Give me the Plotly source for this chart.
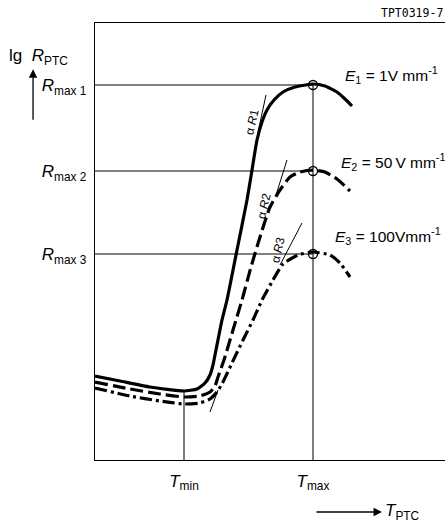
import plotly.graph_objects as go

# ---- data (arbitrary units: T on x, lg R on y) ----
T_MIN = 17.8
T_MAX = 43.6
R_MAX = [75.0, 57.8, 41.2]          # Rmax1, Rmax2, Rmax3

curve1_T = [0, 5, 11, 17.8, 20.4, 22, 23, 23.6, 24.2, 25.4, 26.4, 28.4, 30.4, 31.4, 32.4, 33.4, 34.4, 35.8, 37.6, 40, 43.6, 46, 48.4, 50, 51.4]
curve1_R = [16.8, 15.8, 14.6, 13.8, 14.2, 15.4, 17, 19, 22, 28, 32, 42, 52, 58, 64, 67.6, 70, 72, 73.6, 74.6, 75.2, 74.8, 73.6, 72.2, 70.8]

curve2_T = [0, 7, 13, 17.8, 21, 23, 24, 24.6, 25.8, 27, 28.2, 29.4, 31.2, 33, 35, 37, 39, 41, 43.6, 46, 48.4, 51]
curve2_R = [15.6, 14.2, 13.2, 12.6, 12.8, 13.6, 14.8, 16.6, 20, 24, 28, 32, 38.6, 44.6, 50.6, 54, 56.6, 57.6, 58, 57.6, 56.2, 53.8]

curve3_T = [0, 7, 13, 17.8, 21, 23, 24.4, 25.4, 27.4, 29.6, 31.6, 33.4, 35.6, 37.6, 40.6, 43.6, 47, 49, 51]
curve3_R = [14.4, 12.8, 11.8, 11.2, 11.4, 12.2, 13.6, 15.2, 19.4, 24, 28, 32, 36, 39.2, 41, 41.6, 41, 39.4, 36.6]

# tangent lines (start/end)
tan1_T, tan1_R = [34.2, 32.6], [73, 65.6]
tan2_T, tan2_R = [38.4, 36.2], [60, 53]
tan3_T, tan3_R = [41.4, 37.0], [47.4, 39.0]
tan0_T, tan0_R = [23.0, 24.6], [9.6, 14.0]

alpha_labels = ["α <i>R</i>1", "α <i>R</i>2", "α <i>R</i>3"]
alpha_T = [31.4, 33.8, 36.6]
alpha_R = [67.6, 50.8, 42.0]

E_labels = ["<i>E</i><sub>1</sub> = 1V mm<sup>-1</sup>",
            "<i>E</i><sub>2</sub> = 50\u2009V mm<sup>-1</sup>",
            "<i>E</i><sub>3</sub> = 100Vmm<sup>-1</sup>"]
E_T = [49.6, 48.8, 47.6]
E_R = [77.0, 59.6, 44.8]

y_ticktext = ["<i>R</i><sub>max 3</sub>", "<i>R</i><sub>max 2</sub>", "<i>R</i><sub>max 1</sub>"]
x_ticktext = ["<i>T</i><sub>min</sub>", "<i>T</i><sub>max</sub>"]

FONT = "Liberation Sans, Arial, sans-serif"
BLK = "black"

fig = go.Figure()

# reference lines
for r in R_MAX:
    fig.add_trace(go.Scatter(x=[0, T_MAX], y=[r, r], mode="lines",
                             line=dict(color=BLK, width=1), hoverinfo="skip"))
fig.add_trace(go.Scatter(x=[T_MAX, T_MAX], y=[0, R_MAX[0]], mode="lines",
                         line=dict(color=BLK, width=1), hoverinfo="skip"))
fig.add_trace(go.Scatter(x=[T_MIN, T_MIN], y=[0, min(curve1_R)], mode="lines",
                         line=dict(color=BLK, width=1), hoverinfo="skip"))

# tangents
for tx, ty in [(tan1_T, tan1_R), (tan2_T, tan2_R), (tan3_T, tan3_R), (tan0_T, tan0_R)]:
    fig.add_trace(go.Scatter(x=tx, y=ty, mode="lines",
                             line=dict(color=BLK, width=1), hoverinfo="skip"))

# curves
fig.add_trace(go.Scatter(x=curve1_T, y=curve1_R, mode="lines",
                         line=dict(color=BLK, width=3.2, shape="spline", smoothing=0.5)))
fig.add_trace(go.Scatter(x=curve2_T, y=curve2_R, mode="lines",
                         line=dict(color=BLK, width=3.2, dash="13px,5px", shape="spline", smoothing=0.5)))
fig.add_trace(go.Scatter(x=curve3_T, y=curve3_R, mode="lines",
                         line=dict(color=BLK, width=3.2, dash="12px,4px,3px,4px", shape="spline", smoothing=0.5)))

# circles at maxima
fig.add_trace(go.Scatter(x=[T_MAX] * 3, y=R_MAX, mode="markers",
                         marker=dict(symbol="circle-open", size=9, color=BLK, line=dict(width=1.3))))

annotations = []
for lab, tx, ty in zip(alpha_labels, alpha_T, alpha_R):
    annotations.append(dict(x=tx, y=ty, text=lab, showarrow=False, textangle=-77,
                            font=dict(family=FONT, size=12, color=BLK)))
for lab, tx, ty in zip(E_labels, E_T, E_R):
    annotations.append(dict(x=tx, y=ty, text=lab, showarrow=False, xanchor="left",
                            yanchor="middle", font=dict(family=FONT, size=15.5, color=BLK)))

annotations += [
    dict(xref="paper", yref="paper", x=-0.251, y=0.922, xanchor="left", yanchor="middle",
         text="lg  <i>R</i><sub>PTC</sub>", showarrow=False,
         font=dict(family=FONT, size=17, color=BLK)),
    dict(xref="paper", yref="paper", x=1.0, y=1.023, xanchor="right", yanchor="middle",
         text="TPT0319-7", showarrow=False,
         font=dict(family="DejaVu Sans Mono, monospace", size=11.5, color=BLK)),
    dict(xref="paper", yref="paper", x=0.823, y=-0.119, xanchor="left", yanchor="middle",
         text="<i>T</i><sub>PTC</sub>", showarrow=False,
         font=dict(family=FONT, size=17, color=BLK)),
    # y arrow
    dict(xref="paper", yref="paper", x=-0.177, y=0.894, ax=0, ay=52,
         text="", showarrow=True, arrowhead=2, arrowsize=1.3, arrowwidth=1.3, arrowcolor=BLK),
    # x arrow
    dict(xref="paper", yref="paper", x=0.82, y=-0.119, ax=-67, ay=0,
         text="", showarrow=True, arrowhead=2, arrowsize=1.3, arrowwidth=1.3, arrowcolor=BLK),
]

fig.update_layout(
    width=445, height=525,
    margin=dict(l=95, r=0, t=23, b=65, autoexpand=False),
    paper_bgcolor="white", plot_bgcolor="white",
    showlegend=False,
    annotations=annotations,
    font=dict(family=FONT, color=BLK),
    xaxis=dict(range=[0, 70], showgrid=False, zeroline=False, automargin=False,
               showline=True, mirror=True, linecolor=BLK, linewidth=1.3,
               tickvals=[T_MIN, T_MAX], ticktext=x_ticktext, ticks="",
               ticklabelstandoff=5, tickfont=dict(family=FONT, size=17, color=BLK)),
    yaxis=dict(range=[0, 87.4], showgrid=False, zeroline=False, automargin=False,
               showline=True, mirror=False, linecolor=BLK, linewidth=1.3,
               tickvals=R_MAX[::-1], ticktext=y_ticktext, ticks="",
               ticklabelstandoff=4, tickfont=dict(family=FONT, size=17, color=BLK)),
)

fig.write_html("out.html", config={"displayModeBar": False},
               post_script="document.body.style.margin='0';document.body.style.overflow='hidden';")
